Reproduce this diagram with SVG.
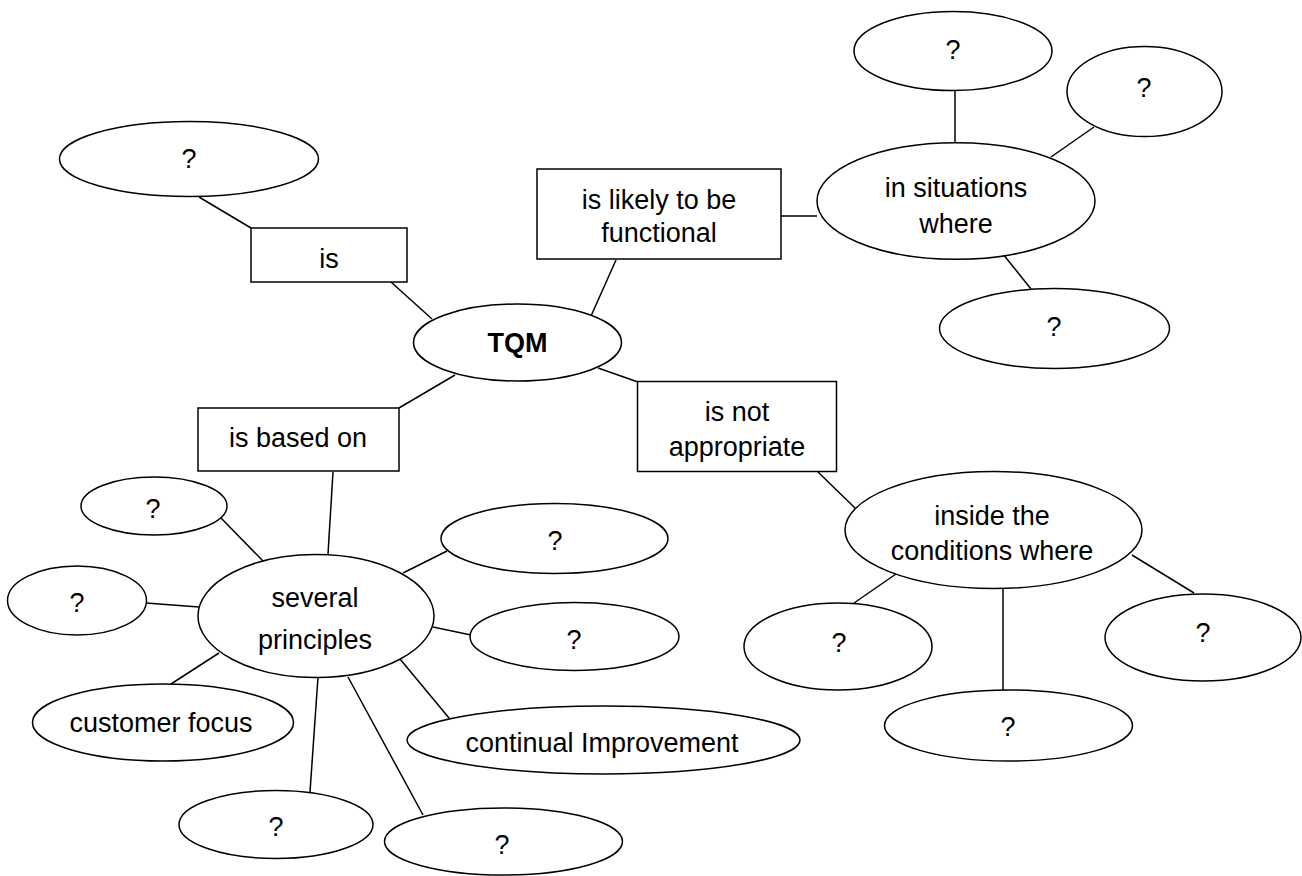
<svg xmlns="http://www.w3.org/2000/svg" width="1302" height="876" viewBox="0 0 1302 876">
<style>
.n{fill:#fff;stroke:#000;stroke-width:1.5}
.c line{stroke:#000;stroke-width:1.5}
text{font-family:"Liberation Sans",Arial,sans-serif;font-size:27px;fill:#000;text-anchor:middle}
.b{font-weight:bold}
</style>
<rect width="1302" height="876" fill="#fff"/>
<g id="connectors" class="c">
<line x1="199" y1="197" x2="251" y2="228"/>
<line x1="391" y1="282" x2="432" y2="319"/>
<line x1="591" y1="316" x2="616" y2="260"/>
<line x1="455" y1="375" x2="399" y2="408"/>
<line x1="598" y1="368" x2="638" y2="382"/>
<line x1="781" y1="216" x2="817" y2="216"/>
<line x1="955" y1="91" x2="955" y2="143"/>
<line x1="1094" y1="127" x2="1051" y2="157"/>
<line x1="1003" y1="254" x2="1031" y2="289"/>
<line x1="818" y1="472" x2="855" y2="508"/>
<line x1="896" y1="574" x2="854" y2="603"/>
<line x1="1003" y1="588" x2="1003" y2="690"/>
<line x1="1132" y1="555" x2="1194" y2="593"/>
<line x1="333" y1="472" x2="328" y2="554"/>
<line x1="220" y1="517" x2="263" y2="561"/>
<line x1="146" y1="603" x2="199" y2="607"/>
<line x1="219" y1="653" x2="171" y2="684"/>
<line x1="447" y1="551" x2="403" y2="573"/>
<line x1="433" y1="627" x2="471" y2="635"/>
<line x1="400" y1="659" x2="449" y2="718"/>
<line x1="318" y1="677" x2="310" y2="792"/>
<line x1="348" y1="677" x2="423" y2="815"/>
</g>
<g id="q1"><ellipse class="n" cx="189" cy="159" rx="129.5" ry="37.5"/><text x="189" y="159" dy=".35em">?</text></g>
<g id="is"><rect class="n" x="251" y="228" width="156" height="54"/><text x="329" y="259" dy=".35em">is</text></g>
<g id="tqm"><ellipse class="n" cx="517.5" cy="342.5" rx="104" ry="38.5"/><text class="b" x="517.5" y="343" dy=".35em">TQM</text></g>
<g id="likely"><rect class="n" x="537" y="169" width="244" height="90"/><text x="659" y="200" dy=".35em">is likely to be</text><text x="659" y="233" dy=".35em">functional</text></g>
<g id="situations"><ellipse class="n" cx="956" cy="201" rx="139" ry="58.3"/><text x="956" y="188" dy=".35em">in situations</text><text x="956" y="224" dy=".35em">where</text></g>
<g id="q2"><ellipse class="n" cx="953" cy="51" rx="99" ry="39.5"/><text x="953" y="50" dy=".35em">?</text></g>
<g id="q3"><ellipse class="n" cx="1144.5" cy="91.5" rx="77.5" ry="45"/><text x="1144" y="88" dy=".35em">?</text></g>
<g id="q4"><ellipse class="n" cx="1054.5" cy="328.5" rx="115" ry="40"/><text x="1054" y="327" dy=".35em">?</text></g>
<g id="based"><rect class="n" x="198" y="408" width="201" height="63"/><text x="298" y="438" dy=".35em">is based on</text></g>
<g id="notappr"><rect class="n" x="637.5" y="381.5" width="199" height="90"/><text x="737" y="412" dy=".35em">is not</text><text x="737" y="447" dy=".35em">appropriate</text></g>
<g id="inside"><ellipse class="n" cx="993.5" cy="530" rx="148.5" ry="58.5"/><text x="992" y="516" dy=".35em">inside the</text><text x="992" y="551" dy=".35em">conditions where</text></g>
<g id="q5"><ellipse class="n" cx="838" cy="646.5" rx="94" ry="43.5"/><text x="839" y="643" dy=".35em">?</text></g>
<g id="q6"><ellipse class="n" cx="1008.5" cy="725.5" rx="124" ry="35.5"/><text x="1008" y="727" dy=".35em">?</text></g>
<g id="q7"><ellipse class="n" cx="1203" cy="637.5" rx="98" ry="43.5"/><text x="1203" y="633" dy=".35em">?</text></g>
<g id="principles"><ellipse class="n" cx="316" cy="616" rx="118" ry="61.5"/><text x="315" y="598" dy=".35em">several</text><text x="315" y="640" dy=".35em">principles</text></g>
<g id="q8"><ellipse class="n" cx="154" cy="506" rx="73" ry="29"/><text x="153" y="509" dy=".35em">?</text></g>
<g id="q9"><ellipse class="n" cx="77" cy="600.5" rx="69.5" ry="34.5"/><text x="77" y="603" dy=".35em">?</text></g>
<g id="customer"><ellipse class="n" cx="163" cy="722.5" rx="130.5" ry="38.5"/><text x="161" y="723" dy=".35em">customer focus</text></g>
<g id="q10"><ellipse class="n" cx="554.5" cy="538.5" rx="113.5" ry="35"/><text x="555" y="541" dy=".35em">?</text></g>
<g id="q11"><ellipse class="n" cx="574.5" cy="636.5" rx="104.5" ry="34"/><text x="574" y="640" dy=".35em">?</text></g>
<g id="continual"><ellipse class="n" cx="603.5" cy="740" rx="196.5" ry="34"/><text x="602" y="743" dy=".35em">continual Improvement</text></g>
<g id="q12"><ellipse class="n" cx="276" cy="824.5" rx="97" ry="34"/><text x="276" y="827" dy=".35em">?</text></g>
<g id="q13"><ellipse class="n" cx="503.5" cy="841.5" rx="119" ry="33.5"/><text x="502" y="845" dy=".35em">?</text></g>
</svg>
